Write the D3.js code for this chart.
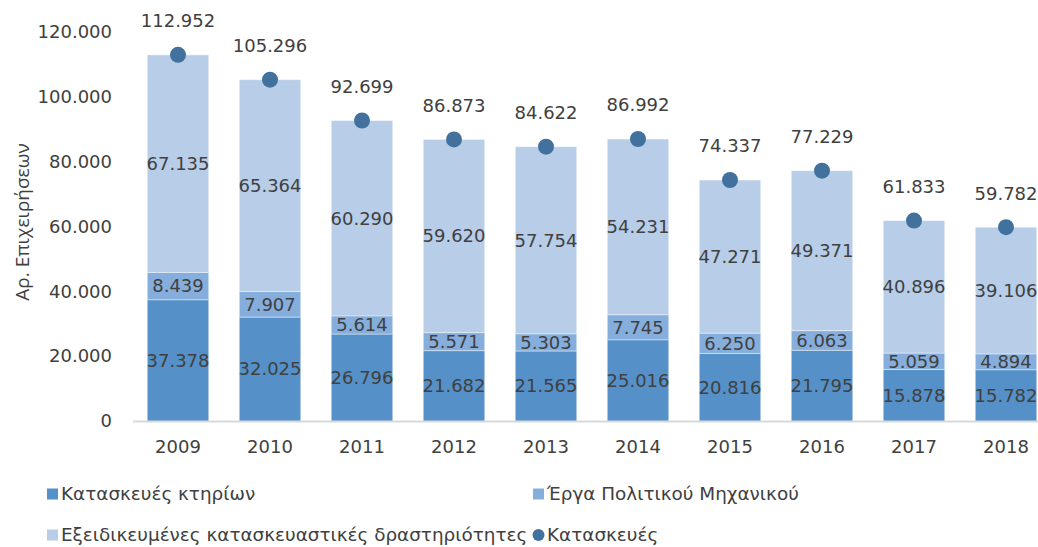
<!DOCTYPE html>
<html>
<head>
<meta charset="utf-8">
<script src="https://cdn.jsdelivr.net/npm/d3@7"></script>
<style>
  body { margin: 0; background: #fff; }
  svg { display: block; }
  text { font-family: "DejaVu Sans", sans-serif; fill: #404040; }
</style>
</head>
<body>
<svg id="chart" width="1038" height="547"></svg>
<script>
const years = ["2009","2010","2011","2012","2013","2014","2015","2016","2017","2018"];
const buildings = [37378, 32025, 26796, 21682, 21565, 25016, 20816, 21795, 15878, 15782];
const civil = [8439, 7907, 5614, 5571, 5303, 7745, 6250, 6063, 5059, 4894];
const specialised = [67135, 65364, 60290, 59620, 57754, 54231, 47271, 49371, 40896, 39106];
const totals = [112952, 105296, 92699, 86873, 84622, 86992, 74337, 77229, 61833, 59782];
const yTicks = [0, 20000, 40000, 60000, 80000, 100000, 120000];
const seriesNames = ["Κατασκευές κτηρίων", "Έργα Πολιτικού Μηχανικού", "Εξειδικευμένες κατασκευαστικές δραστηριότητες", "Κατασκευές"];
const colors = ["#5590c8", "#86aedd", "#b8cde8"];
const dotColor = "#41719c";

const fmt = v => d3.format(",")(v).replace(/,/g, ".");
const FS = "18px";

const svg = d3.select("#chart");
const x = d3.scaleBand().domain(years).range([132, 1052]).paddingInner(0.337).paddingOuter(0.1685);
const y = d3.scaleLinear().domain([0, 120000]).range([421, 32]);

// y tick labels
svg.append("g").selectAll("text").data(yTicks).join("text")
  .attr("x", 112).attr("y", d => y(d)).attr("dy", "0.35em")
  .attr("text-anchor", "end").style("font-size", FS)
  .text(d => fmt(d));

// axis title
svg.append("text")
  .attr("transform", "translate(22,222) rotate(-90)")
  .attr("text-anchor", "middle").style("font-size", "19px")
  .style("font-family", "'Open Sans', sans-serif")
  .attr("dy", "0.35em")
  .text("Αρ. Επιχειρήσεων");

const stackData = years.map((yr, i) => ({ year: yr, s0: buildings[i], s1: civil[i], s2: specialised[i] }));
const stack = d3.stack().keys(["s0", "s1", "s2"])(stackData);

const g = svg.append("g");
stack.forEach((layer, li) => {
  g.append("g").selectAll("rect").data(layer).join("rect")
    .attr("x", d => x(d.data.year))
    .attr("width", x.bandwidth())
    .attr("y", d => y(d[1]))
    .attr("height", d => y(d[0]) - y(d[1]))
    .attr("fill", colors[li]);
});
// thin separators between segments
stack.forEach((layer, li) => {
  g.append("g").selectAll("line").data(layer).join("line")
    .attr("x1", d => x(d.data.year)).attr("x2", d => x(d.data.year) + x.bandwidth())
    .attr("y1", d => y(d[1])).attr("y2", d => y(d[1]))
    .attr("stroke", "#ffffff").attr("stroke-opacity", 0.5).attr("stroke-width", 1);
});
// segment labels
stack.forEach((layer, li) => {
  g.append("g").selectAll("text").data(layer).join("text")
    .attr("x", d => x(d.data.year) + x.bandwidth() / 2)
    .attr("y", d => (y(d[0]) + y(d[1])) / 2)
    .attr("dy", "0.35em").attr("text-anchor", "middle")
    .style("font-size", FS)
    .text(d => fmt(d[1] - d[0]));
});

// x axis line
svg.append("line").attr("x1", 133).attr("x2", 1038).attr("y1", 421.5).attr("y2", 421.5)
  .attr("stroke", "#d9d9d9").attr("stroke-width", 2);

// x labels
svg.append("g").selectAll("text").data(years).join("text")
  .attr("x", d => x(d) + x.bandwidth() / 2).attr("y", 447).attr("dy", "0.35em")
  .attr("text-anchor", "middle").style("font-size", FS).text(d => d);

// total dots and labels
svg.append("g").selectAll("circle").data(totals).join("circle")
  .attr("cx", (d, i) => x(years[i]) + x.bandwidth() / 2)
  .attr("cy", d => y(d)).attr("r", 8).attr("fill", dotColor);
svg.append("g").selectAll("text").data(totals).join("text")
  .attr("x", (d, i) => x(years[i]) + x.bandwidth() / 2)
  .attr("y", d => y(d) - 34).attr("dy", "0.35em")
  .attr("text-anchor", "middle").style("font-size", FS).text(d => fmt(d));

// legend
const leg = svg.append("g");
const legItems = [
  { name: seriesNames[0], x: 47, y: 494, type: "rect", color: colors[0] },
  { name: seriesNames[1], x: 533, y: 494, type: "rect", color: colors[1] },
  { name: seriesNames[2], x: 47, y: 535, type: "rect", color: colors[2] },
  { name: seriesNames[3], x: 533, y: 535, type: "circle", color: dotColor }
];
legItems.forEach(it => {
  if (it.type === "rect") {
    leg.append("rect").attr("x", it.x).attr("y", it.y - 5.5).attr("width", 11).attr("height", 11).attr("fill", it.color);
  } else {
    leg.append("circle").attr("cx", it.x + 5.5).attr("cy", it.y).attr("r", 6).attr("fill", it.color);
  }
  leg.append("text").attr("x", it.x + 14).attr("y", it.y).attr("dy", "0.35em")
    .style("font-size", "18.4px").text(it.name);
});
</script>
</body>
</html>
